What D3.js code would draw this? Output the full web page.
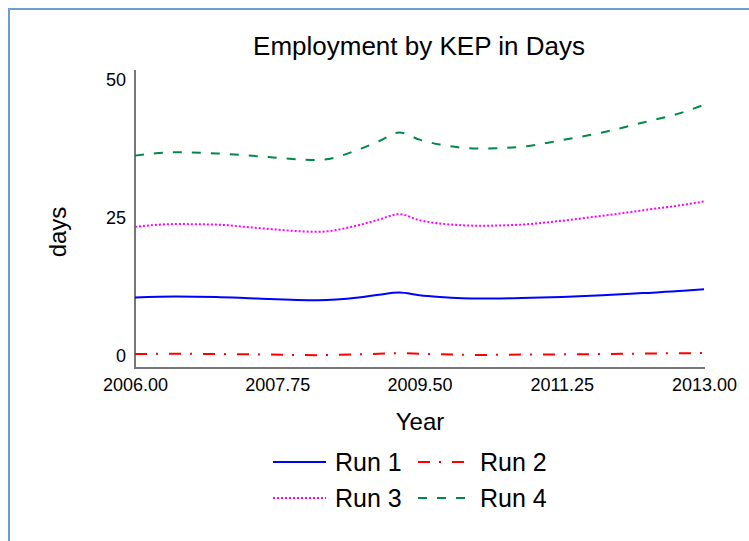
<!DOCTYPE html>
<html>
<head>
<meta charset="utf-8">
<script src="https://cdn.jsdelivr.net/npm/d3@7"></script>
<style>
  body { margin: 0; background: #fff; }
  text { font-family: "Liberation Sans", Arial, sans-serif; fill: #000; }
</style>
</head>
<body>
<div id="chart"></div>
<script>
// data
const years = [2006, 2006.5, 2007, 2007.5, 2008.25, 2008.75, 2009, 2009.25, 2009.5, 2009.75, 2010.25, 2010.75, 2011.25, 2011.75, 2012.25, 2012.75, 2013];
const run1 = [10.6, 10.8, 10.7, 10.4, 10.1, 10.6, 11.1, 11.5, 11.0, 10.7, 10.4, 10.5, 10.7, 11.0, 11.4, 11.8, 12.1];
const run2 = [0.35, 0.4, 0.35, 0.3, 0.15, 0.3, 0.4, 0.5, 0.4, 0.3, 0.2, 0.25, 0.3, 0.35, 0.45, 0.5, 0.55];
const run3 = [23.4, 23.9, 23.8, 23.2, 22.5, 23.7, 24.7, 25.7, 24.6, 24.0, 23.6, 23.8, 24.5, 25.4, 26.4, 27.4, 28.0];
const run4 = [36.3, 36.9, 36.7, 36.2, 35.5, 37.4, 38.9, 40.5, 39.2, 38.3, 37.6, 37.9, 39.1, 40.5, 42.3, 44.2, 45.5];
const seriesNames = ["Run 1", "Run 2", "Run 3", "Run 4"];
const xTicks = [2006, 2007.75, 2009.5, 2011.25, 2013];
const yTicks = [0, 25, 50];

const W = 749, H = 541;
const styles = [
  {color: "#0000ff", dash: null},
  {color: "#ff0000", dash: "12,9,2,11"},
  {color: "#ff00ff", dash: "2,2"},
  {color: "#00884a", dash: "9,10"}
];
const series = [run1, run2, run3, run4];

const svg = d3.select("#chart").append("svg")
    .attr("width", W)
    .attr("height", H);

// cadre bleu
svg.append("rect")
    .attr("x", 9).attr("y", 9)
    .attr("width", W + 20).attr("height", H + 20)
    .attr("fill", "none")
    .attr("stroke", "#6b9fd3")
    .attr("stroke-width", 2);

const x = d3.scaleLinear().domain([2006, 2013]).range([135, 704]);
const y = d3.scaleLinear().domain([0, 50]).range([356, 80]);
const plotTop = 70, plotBottom = 368;

svg.append("text")
    .attr("x", 419).attr("y", 55)
    .attr("text-anchor", "middle")
    .style("font-size", "26px")
    .text("Employment by KEP in Days");

// axes
svg.append("g")
    .attr("transform", "translate(0," + plotBottom + ")")
    .call(d3.axisBottom(x).tickValues(xTicks).tickFormat(d3.format(".2f")).tickSize(0).tickPadding(10))
    .call(g => g.select(".domain").remove())
    .selectAll("text").style("font-size", "18px").attr("fill", "#000")
    .style("font-family", "'Liberation Sans', Arial, sans-serif");

svg.append("g")
    .attr("transform", "translate(126,0)")
    .call(d3.axisLeft(y).tickValues(yTicks).tickSize(0).tickPadding(0))
    .call(g => g.select(".domain").remove())
    .selectAll("text").style("font-size", "18px").attr("fill", "#000")
    .style("font-family", "'Liberation Sans', Arial, sans-serif");

svg.append("line")
    .attr("x1", 135).attr("x2", 135).attr("y1", plotTop).attr("y2", plotBottom)
    .attr("stroke", "#777").attr("stroke-width", 2);
svg.append("line")
    .attr("x1", 134).attr("x2", 705).attr("y1", plotBottom).attr("y2", plotBottom)
    .attr("stroke", "#777").attr("stroke-width", 2);

svg.append("text")
    .attr("transform", "translate(66,232) rotate(-90)")
    .attr("text-anchor", "middle")
    .style("font-size", "24px")
    .text("days");

svg.append("text")
    .attr("x", 420).attr("y", 430)
    .attr("text-anchor", "middle")
    .style("font-size", "24px")
    .text("Year");

// courbes
const line = d3.line()
    .x(d => x(d[0]))
    .y(d => y(d[1]))
    .curve(d3.curveMonotoneX);

series.forEach(function(vals, i) {
    svg.append("path")
        .datum(years.map((yr, j) => [yr, vals[j]]))
        .attr("fill", "none")
        .attr("stroke", styles[i].color)
        .attr("stroke-width", 2)
        .attr("stroke-dasharray", styles[i].dash)
        .attr("d", line);
});

// légende
const legPos = [[273, 462], [418, 462], [273, 498], [418, 498]];
seriesNames.forEach(function(name, i) {
    const p = legPos[i];
    svg.append("line")
        .attr("x1", p[0]).attr("x2", p[0] + (i === 1 ? 46 : 53))
        .attr("y1", p[1]).attr("y2", p[1])
        .attr("stroke", styles[i].color)
        .attr("stroke-width", 2)
        .attr("stroke-dasharray", styles[i].dash);
    svg.append("text")
        .attr("x", i % 2 === 0 ? 335 : 480).attr("y", p[1] + 9)
        .style("font-size", "25px")
        .text(name);
});
</script>
</body>
</html>
